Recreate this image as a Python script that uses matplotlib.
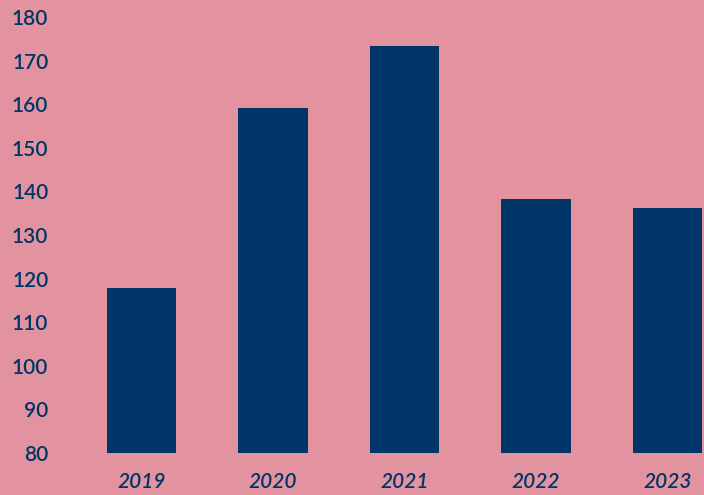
import matplotlib

matplotlib.use("Agg")
import matplotlib.pyplot as plt

years = ["2019", "2020", "2021", "2022", "2023"]
values = [117.8, 159.1, 173.3, 138.3, 136.2]
yticks = [80, 90, 100, 110, 120, 130, 140, 150, 160, 170, 180]

BG = "#E3939F"
NAVY = "#003567"

plt.rcParams["font.family"] = ["Lato", "DejaVu Sans"]

fig = plt.figure(figsize=(7.04, 4.95), dpi=100, facecolor=BG)
ax = fig.add_axes([65 / 704, 42 / 495, 639 / 704, 436 / 495])
ax.set_facecolor(BG)

x = list(range(len(years)))
ax.bar(x, [v - 80 for v in values], bottom=80, width=0.525, color=NAVY)

ax.set_xlim(-0.5817, 4.2776)
ax.set_ylim(80, 180)
ax.set_yticks(yticks)
ax.set_yticklabels([str(t) for t in yticks])
ax.set_xticks(x)
ax.set_xticklabels(years)

for s in ax.spines.values():
    s.set_visible(False)
ax.tick_params(axis="both", length=0, colors=NAVY)
ax.tick_params(axis="y", pad=12, labelsize=15)
ax.tick_params(axis="x", pad=14, labelsize=15)
for lab in ax.get_yticklabels():
    lab.set_fontweight("semibold")
for lab in ax.get_xticklabels():
    lab.set_fontstyle("italic")
    lab.set_fontweight("semibold")

fig.savefig("out.png", dpi=100, facecolor=BG)
